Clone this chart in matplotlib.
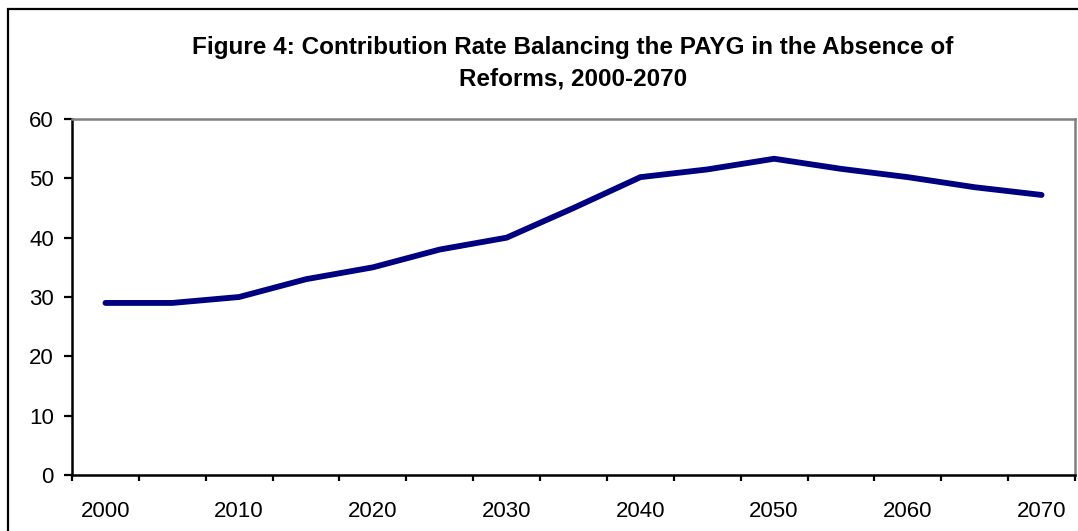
import numpy as np
import matplotlib
matplotlib.use("Agg")
import matplotlib.pyplot as plt
from matplotlib.patches import Rectangle

# years every 5 years, 2000-2070
years = [2000, 2005, 2010, 2015, 2020, 2025, 2030, 2035,
         2040, 2045, 2050, 2055, 2060, 2065, 2070]
# contribution rate balancing PAYG (%)
rate = [29, 29, 30, 33, 35, 38, 40, 45,
        50.2, 51.5, 53.3, 51.6, 50.2, 48.5, 47.2]
y_ticks = [0, 10, 20, 30, 40, 50, 60]
title = "Figure 4: Contribution Rate Balancing the PAYG in the Absence of\nReforms, 2000-2070"

plt.rcParams['font.family'] = ['Liberation Sans', 'DejaVu Sans']

W, H = 1078, 531
fig = plt.figure(figsize=(W / 100, H / 100), dpi=100)
ax = fig.add_axes([72 / W, 1 - 475 / H, (1075 - 72) / W, (475 - 119) / H])

x = np.arange(len(years))
ax.plot(x, rate, color='#000080', lw=4.2, solid_capstyle='round', solid_joinstyle='round')

ax.set_xlim(-0.5, len(years) - 0.5)
ax.set_ylim(0, 60)
ax.set_yticks(y_ticks)
ax.set_yticklabels([str(v) for v in y_ticks], fontsize=16)

# labels every other category, tick marks on category boundaries
ax.set_xticks(x[::2])
ax.set_xticklabels([str(y) for y in years[::2]], fontsize=16)
ax.set_xticks(np.arange(-0.5, len(years)), minor=True)
ax.tick_params(axis='x', which='major', length=0, pad=19)
ax.tick_params(axis='x', which='minor', length=4, width=1.6, direction='out')
ax.tick_params(axis='y', length=6, width=1.6, pad=7)

for s in ['left', 'bottom']:
    ax.spines[s].set_linewidth(1.8)
    ax.spines[s].set_color('black')
for s in ['top', 'right']:
    ax.spines[s].set_linewidth(1.8)
    ax.spines[s].set_color('#808080')

fig.text(573 / W, 1 - 63 / H, title, ha='center', va='center',
         fontsize=17.5, fontweight='bold', linespacing=1.45)

# outer chart frame (cut off at right and bottom)
fig.patches.append(Rectangle((8 / W, -0.1), 1.2, 1 - 9 / H + 0.1,
                             transform=fig.transFigure, fill=False,
                             lw=1.6, ec='black'))

fig.savefig("out.png", dpi=100)
